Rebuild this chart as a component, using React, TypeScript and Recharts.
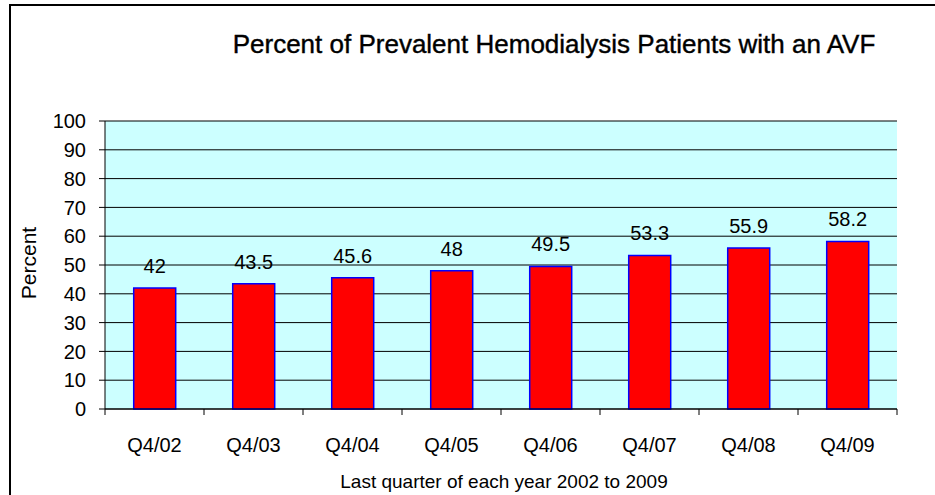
import React from "react";
import { BarChart, Bar, XAxis, YAxis, CartesianGrid, LabelList } from "recharts";

const categories = ["Q4/02", "Q4/03", "Q4/04", "Q4/05", "Q4/06", "Q4/07", "Q4/08", "Q4/09"];
const avfPercent = [42, 43.5, 45.6, 48, 49.5, 53.3, 55.9, 58.2];
const yTicks = [0, 10, 20, 30, 40, 50, 60, 70, 80, 90, 100];

const data = categories.map((c, i) => ({ name: c, value: avfPercent[i] }));

const FONT = "Arial, 'Liberation Sans', sans-serif";

const XTick = (props: any) => {
  const { x, y, payload, index } = props;
  const off = payload && payload.offset != null ? payload.offset : 49.5;
  const last = index === categories.length - 1;
  return (
    <g>
      <line x1={x - off} y1={y} x2={x - off} y2={y + 6} stroke="#000" />
      {last && <line x1={x + off} y1={y} x2={x + off} y2={y + 6} stroke="#000" />}
      <text x={x} y={y + 36} textAnchor="middle" dominantBaseline="central" fontSize={20} fontFamily={FONT} fill="#000">
        {payload.value}
      </text>
    </g>
  );
};

export default function App() {
  return (
    <div style={{ position: "absolute", left: 0, top: 0, width: 935, height: 495, background: "#fff", fontFamily: FONT, overflow: "hidden" }}>
      <div style={{ position: "absolute", left: 9, top: 4, right: 0, bottom: 0, borderLeft: "2px solid #000", borderTop: "2px solid #000" }} />
      <BarChart
        width={935}
        height={495}
        data={data}
        margin={{ top: 121, right: 38, bottom: 56, left: 45 }}
        barCategoryGap="29%"
      >
        <CartesianGrid vertical={false} horizontal stroke="#000" fill="#CCFFFF" fillOpacity={1} />
        <XAxis
          dataKey="name"
          height={30}
          tickLine={false}
          tickSize={0}
          tickMargin={0}
          axisLine={{ stroke: "#000" }}
          tick={<XTick />}
          interval={0}
        />
        <YAxis
          width={60}
          domain={[0, 100]}
          ticks={yTicks}
          interval={0}
          tickSize={6}
          tickMargin={13}
          axisLine={{ stroke: "#000" }}
          tickLine={{ stroke: "#000" }}
          tick={{ fontSize: 20, fontFamily: FONT, fill: "#000" }}
        />
        <Bar dataKey="value" fill="#FF0000" stroke="#0000FF" strokeWidth={1.5} isAnimationActive={false}>
          <LabelList dataKey="value" position="top" offset={15} fontSize={20} fontFamily={FONT} fill="#000" />
        </Bar>
      </BarChart>
      <div style={{ position: "absolute", left: 0, width: 1108, top: 29, textAlign: "center", fontSize: 26, lineHeight: "30px", color: "#000", whiteSpace: "nowrap", WebkitTextStroke: "0.4px #000" }}>
        Percent of Prevalent Hemodialysis Patients with an AVF
      </div>
      <div style={{ position: "absolute", left: 204, width: 600, top: 471, textAlign: "center", fontSize: 19, lineHeight: "22px", color: "#000", whiteSpace: "nowrap" }}>
        Last quarter of each year 2002 to 2009
      </div>
      <div style={{ position: "absolute", left: 29, top: 263, width: 0, height: 0 }}>
        <div style={{ position: "absolute", left: -60, top: -12, width: 120, textAlign: "center", fontSize: 21, lineHeight: "24px", transform: "rotate(-90deg)", color: "#000", whiteSpace: "nowrap" }}>
          Percent
        </div>
      </div>
    </div>
  );
}
